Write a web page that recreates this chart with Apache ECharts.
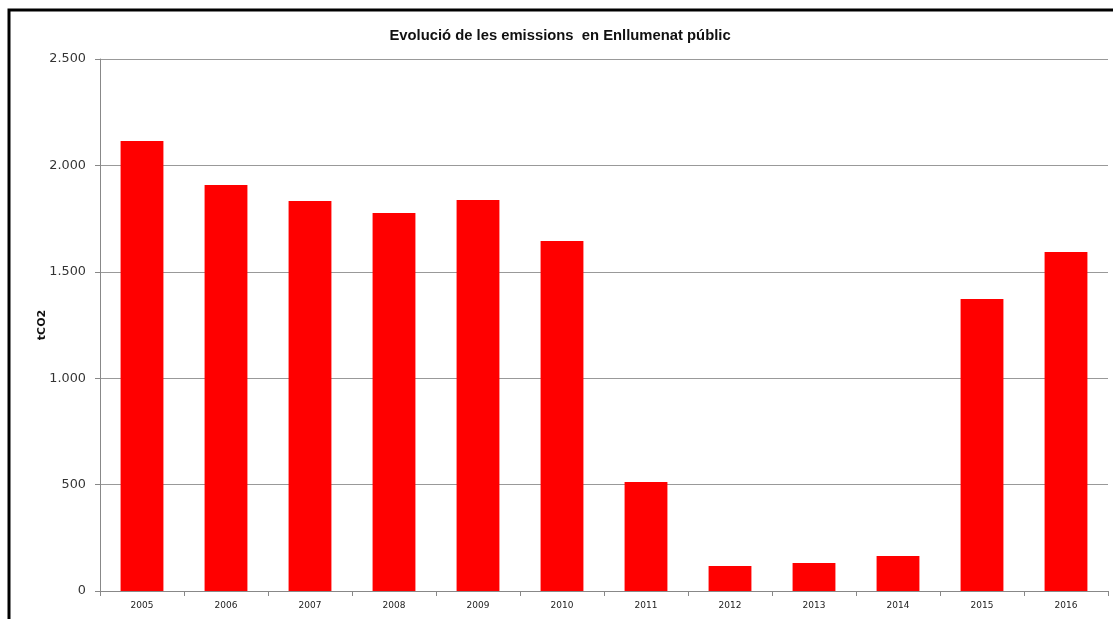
<!DOCTYPE html>
<html><head><meta charset="utf-8">
<script src="https://cdn.jsdelivr.net/npm/echarts@6/dist/echarts.min.js"></script>
<style>html,body{margin:0;padding:0;background:#fff}#c{width:1113px;height:619px}</style>
</head><body><div id="c"></div>
<script>
const categories = ['2005','2006','2007','2008','2009','2010','2011','2012','2013','2014','2015','2016'];
const emissions = [2115, 1908, 1833, 1776, 1837, 1645, 512, 117, 132, 164, 1372, 1593];
const yTicks = [0, 500, 1000, 1500, 2000, 2500];

const chart = echarts.init(document.getElementById('c'));
chart.setOption({
  animation: false,
  backgroundColor: '#fff',
  title: {
    text: 'Evolució de les emissions  en Enllumenat públic',
    left: 555, top: 23, textAlign: 'center',
    textStyle: {fontFamily: 'Liberation Sans, Arial', fontSize: 14.8, fontWeight: 'bold', color: '#111'}
  },
  graphic: [{
    type: 'rect', shape: {x: 9, y: 10, width: 1120, height: 640},
    style: {fill: 'none', stroke: '#000', lineWidth: 3}
  }],
  grid: {left: 100, right: 5, top: 59, bottom: 28, containLabel: false},
  xAxis: {
    type: 'category', data: categories,
    axisLine: {lineStyle: {color: '#888'}},
    axisTick: {show: true, length: 5, lineStyle: {color: '#888'}},
    axisLabel: {color: '#222', fontSize: 9, fontFamily: 'DejaVu Sans', margin: 10}
  },
  yAxis: {
    type: 'value', min: 0, max: 2500, interval: 500,
    name: 'tCO2', nameLocation: 'middle', nameGap: 52, nameRotate: 90,
    nameMoveOverlap: false,
    nameTextStyle: {fontFamily: 'DejaVu Sans', fontWeight: 'bold', fontSize: 11, color: '#111'},
    axisLine: {show: true, lineStyle: {color: '#888'}},
    axisTick: {show: true, length: 5, lineStyle: {color: '#888'}},
    splitLine: {lineStyle: {color: '#999'}},
    axisLabel: {
      color: '#333', fontSize: 12.8, fontFamily: 'DejaVu Sans', margin: 14,
      formatter: v => yTicks.includes(v) ? String(v).replace(/\B(?=(\d{3})+(?!\d))/g, '.') : ''
    }
  },
  series: [{
    type: 'bar', data: emissions, barWidth: '51%',
    itemStyle: {color: '#ff0000'}
  }]
});
</script></body></html>
